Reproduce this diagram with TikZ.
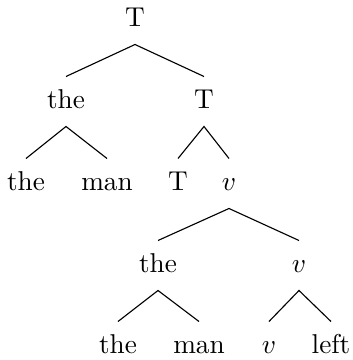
\documentclass[tikz,border=0pt]{standalone}
\begin{document}
\begin{tikzpicture}[x=0.4pt,y=-0.4pt,
  lab/.style={anchor=base,inner sep=0pt,text height=12.4pt,text depth=7.2pt,font=\fontsize{10.9}{13}\selectfont},
  edge/.style={draw=black,line width=0.45pt}]
\useasboundingbox (0,0) rectangle (353,360);
% level 1
\node[lab] (root) at (135,26) {T};
% level 2
\node[lab] (the1) at (66,108) {the};
\node[lab] (T1) at (204,108) {T};
% level 3
\node[lab] (the2) at (26,190) {the};
\node[lab] (man2) at (107,190) {man};
\node[lab] (T2) at (178,190) {T};
\node[lab] (v1) at (229,190) {$v$};
% level 4
\node[lab] (the3) at (158,272) {the};
\node[lab] (v2) at (299,272) {$v$};
% level 5
\node[lab] (the4) at (118,353) {the};
\node[lab] (man4) at (199,353) {man};
\node[lab] (v3) at (269,353) {$v$};
\node[lab] (left) at (331,353) {left};
% edges
\draw[edge] (the1.north) -- (root.south) -- (T1.north);
\draw[edge] (the2.north) -- (the1.south) -- (man2.north);
\draw[edge] (T2.north) -- (T1.south) -- (v1.north);
\draw[edge] (the3.north) -- (v1.south) -- (v2.north);
\draw[edge] (the4.north) -- (the3.south) -- (man4.north);
\draw[edge] (v3.north) -- (v2.south) -- (left.north);
\end{tikzpicture}
\end{document}
